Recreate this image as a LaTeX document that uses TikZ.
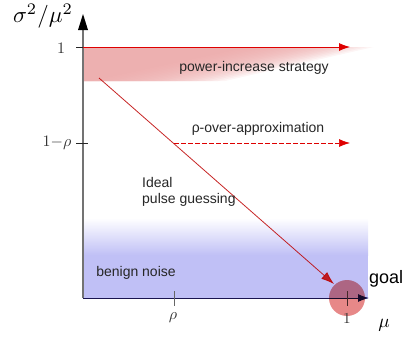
\documentclass[tikz,border=0pt]{standalone}
\usepackage{fontspec}
\setsansfont{Liberation Sans}
\usetikzlibrary{arrows.meta}
\definecolor{bluefill}{RGB}{192,192,246}
\definecolor{pinkfill}{RGB}{236,170,170}
\definecolor{arrred}{RGB}{222,0,0}
\definecolor{navy}{RGB}{25,20,80}
\definecolor{goalred}{RGB}{231,136,136}
\begin{document}
\begin{tikzpicture}[x=1pt,y=-1pt,
  lbl/.style={font=\sffamily\fontsize{14}{16.5}\selectfont, text=black!85, inner sep=0pt},
  mathlbl/.style={scale=1.6, text=black!80, inner sep=0pt},
  redarrow/.style={draw=arrred, line width=0.8pt, -{Latex[length=11pt,width=8pt]}}]
\useasboundingbox (0,0) rectangle (410,343);
% coordinates
\coordinate (O) at (83,298);
\coordinate (Ytop) at (83,14);
\coordinate (Xend) at (369,298);
\coordinate (Y1) at (83,47);
\coordinate (R1) at (350,47);
\coordinate (Dstart) at (174,143);
\coordinate (Dend) at (350,143);
\coordinate (Gs) at (99,78);
\coordinate (Ge) at (334,284);
\coordinate (G) at (347,298);
% blue region
\fill[bluefill] (83,254) rectangle (368,299);
\shade[top color=white, bottom color=bluefill] (83,218) rectangle (368,255);
% red band (layered gradient)
\foreach \i in {0,...,19} {
  \pgfmathsetmacro{\xt}{250+6.5*\i}
  \pgfmathsetmacro{\xb}{92+7*\i}
  \fill[pinkfill, opacity=0.12] (83,47) -- (\xt,47) -- (\xb,81) -- (83,81) -- cycle;
}
% axes
\draw[black!55, line width=1.2pt] (O) -- (83,28);
\fill[black] (Ytop) -- (78,30) -- (88,30) -- cycle;
\draw[navy, line width=1pt, -{Latex[length=11pt,width=8pt]}] (O) -- (Xend);
% ticks
\draw[black!85, line width=0.8pt] (76,47) -- (88,47);
\draw[black!85, line width=0.8pt] (76,143) -- (88,143);
\draw[black!60, line width=1pt] (174,291) -- (174,306);
\draw[black!70, line width=1pt] (347,291) -- (347,306);
% arrows
\draw[redarrow] (Y1) -- (R1);
\draw[redarrow, dashed, dash pattern=on 5pt off 2pt, line width=0.7pt] (Dstart) -- (Dend);
\draw[draw=arrred!85!black, opacity=0.85, line width=0.8pt, -{Latex[length=13pt,width=9pt]}] (Gs) -- (Ge);
% goal circle
\fill[goalred, blend mode=multiply] (G) circle (18);
% labels
\node[scale=2.3, inner sep=0pt] (ylab) at (43,16) {$\sigma^2/\mu^2$};
\node[scale=1.9, inner sep=0pt] (xlab) at (384,325) {$\mu$};
\node[mathlbl] (l1) at (61,48) {$1$};
\node[mathlbl] (l1r) at (57,143) {$1{-}\rho$};
\node[mathlbl] (lrho) at (173,318) {$\rho$};
\node[mathlbl, scale=0.95] (lone) at (347,319) {$1$};
\node[lbl] (pis) at (254,68) {power-increase strategy};
\node[lbl] (roa) at (258,129) {ρ-over-approximation};
\node[lbl, align=left, anchor=west] (ipg) at (142,192) {Ideal\\pulse guessing};
\node[lbl] (bn) at (136,273) {benign noise};
\node[font=\sffamily\fontsize{18}{20}\selectfont, inner sep=0pt, anchor=west] (goal) at (369,279) {goal};
\end{tikzpicture}
\end{document}
